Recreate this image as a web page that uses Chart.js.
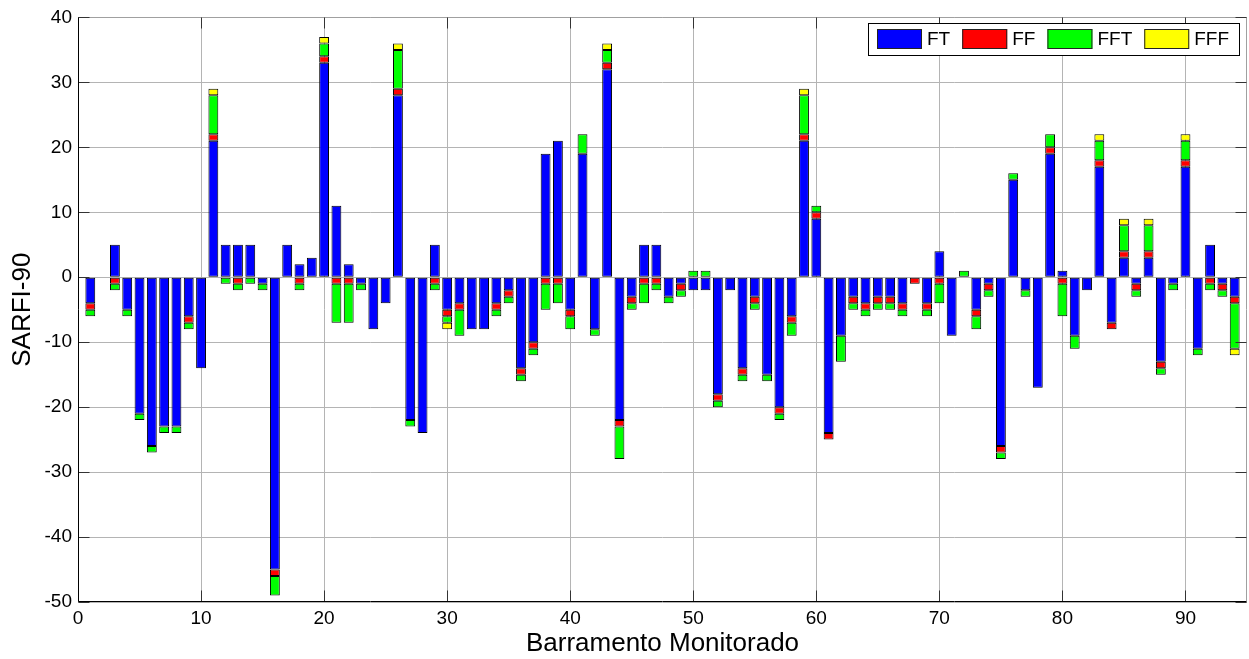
<!DOCTYPE html>
<html><head><meta charset="utf-8">
<script src="https://cdn.jsdelivr.net/npm/chart.js@4.4.0/dist/chart.umd.min.js"></script>
<style>html,body{margin:0;padding:0;background:#fff;overflow:hidden}canvas{display:block}</style>
</head><body>
<canvas id="c" width="1249" height="659"></canvas>
<script>
const buses = [1,2,3,4,5,6,7,8,9,10,11,12,13,14,15,16,17,18,19,20,21,22,23,24,25,26,27,28,29,30,31,32,33,34,35,36,37,38,39,40,41,42,43,44,45,46,47,48,49,50,51,52,53,54,55,56,57,58,59,60,61,62,63,64,65,66,67,68,69,70,71,72,73,74,75,76,77,78,79,80,81,82,83,84,85,86,87,88,89,90,91,92,93,94];
const FT  = [-4,0,5,-5,-21,-26,-23,-23,-6,-14, 21,5,5,5,-1,-45,5,2,3,33, 11,2,-1,-8,-4,28,-22,-24,5,-5, -4,-8,-8,-4,-2,-14,-10,19,21,-5, 19,-8,32,-22,-3,5,5,-3,-1,-2, -2,-18,-2,-14,-3,-15,-20,-6,21,9, -24,-9,-3,-4,-3,-3,-4,0,-4,4, -9,0,-5,-1,-26,15,-2,-17,19,1, -9,-2,17,-7,3,-1,3,-13,-1,17, -11,5,-1,-3];
const FF  = [-1,0,-1,0,0,0,0,0,-1,0, 1,0,-1,0,0,-1,0,-1,0,1, -1,-1,0,0,0,1,0,0,-1,-1, -1,0,0,-1,-1,-1,-1,-1,-1,-1, 0,0,1,-1,-1,-1,-1,0,-1,0, 0,-1,0,-1,-1,0,-1,-1,1,1, -1,0,-1,-1,-1,-1,-1,-1,-1,-1, 0,0,-1,-1,-1,0,0,0,1,-1, 0,0,1,-1,1,-1,1,-1,0,1, 0,-1,-1,-1];
const FFT = [-1,0,-1,-1,-1,-1,-1,-1,-1,0, 6,-1,-1,-1,-1,-3,0,-1,0,2, -6,-6,-1,0,0,6,-1,0,-1,-1, -4,0,0,-1,-1,-1,-1,-4,-3,-2, 3,-1,2,-5,-1,-3,-1,-1,-1,1, 1,-1,0,-1,-1,-1,-1,-2,6,1, 0,-4,-1,-1,-1,-1,-1,0,-1,-3, 0,1,-2,-1,-1,1,-1,0,2,-5, -2,0,3,0,4,-1,4,-1,-1,3, -1,-1,-1,-7];
const FFF = [0,0,0,0,0,0,0,0,0,0, 1,0,0,0,0,0,0,0,0,1, 0,0,0,0,0,1,0,0,0,-1, 0,0,0,0,0,0,0,0,0,0, 0,0,1,0,0,0,0,0,0,0, 0,0,0,0,0,0,0,0,1,0, 0,0,0,0,0,0,0,0,0,0, 0,0,0,0,0,0,0,0,0,0, 0,0,1,0,1,0,1,0,0,1, 0,0,0,-1];
const seriesNames = ['FT','FF','FFT','FFF'];
const seriesColors = ['#0000ff','#ff0000','#00ff00','#ffff00'];
const xTicks = [0,10,20,30,40,50,60,70,80,90];
const yTicks = [-50,-40,-30,-20,-10,0,10,20,30,40];

const FONT = "'Liberation Sans', Arial, Helvetica, sans-serif";
const series = [FT, FF, FFT, FFF];
const datasets = series.map((vals, k) => ({
  label: seriesNames[k],
  data: buses.map((b, i) => ({x: b, y: vals[i] === 0 ? null : vals[i]})),
  backgroundColor: seriesColors[k],
  borderColor: '#000000',
  borderWidth: 1,
  borderSkipped: false,
  barPercentage: 0.8,
  categoryPercentage: 1.0
}));

const frame = {
  id: 'frame',
  afterDraw(chart) {
    const ctx = chart.ctx, a = chart.chartArea;
    const xs = chart.scales.x, ys = chart.scales.y;
    const L = Math.round(a.left) + 0.5, R = Math.round(a.right) - 0.5;
    const T = Math.round(a.top) + 0.5, B = Math.round(a.bottom) - 0.5;
    ctx.save();
    ctx.lineWidth = 1;
    ctx.strokeStyle = '#a0a0a0';
    ctx.beginPath();
    ctx.moveTo(L, T); ctx.lineTo(R, T); ctx.lineTo(R, B);
    ctx.stroke();
    ctx.strokeStyle = '#333333';
    ctx.beginPath();
    xTicks.forEach(v => {
      const px = Math.round(xs.getPixelForValue(v)) + 0.5;
      ctx.moveTo(px, B); ctx.lineTo(px, B - 11);
      ctx.moveTo(px, T); ctx.lineTo(px, T + 11);
    });
    yTicks.forEach(v => {
      const py = Math.round(ys.getPixelForValue(v)) + 0.5;
      ctx.moveTo(L, py); ctx.lineTo(L + 11, py);
      ctx.moveTo(R, py); ctx.lineTo(R - 11, py);
    });
    ctx.stroke();
    ctx.strokeStyle = '#000000';
    ctx.beginPath();
    ctx.moveTo(L, T); ctx.lineTo(L, B); ctx.lineTo(R, B);
    ctx.stroke();

    // legend box
    const bx = 868, by = 23, bw = 372, bh = 33;
    ctx.fillStyle = '#ffffff';
    ctx.fillRect(bx, by, bw, bh);
    ctx.strokeStyle = '#000000';
    ctx.strokeRect(bx + 0.5, by + 0.5, bw - 1, bh - 1);
    ctx.font = '19px ' + FONT;
    ctx.textBaseline = 'middle';
    ctx.textAlign = 'left';
    let x = 877;
    chart.data.datasets.forEach(ds => {
      ctx.fillStyle = ds.backgroundColor;
      ctx.fillRect(x, 29, 45, 20);
      ctx.strokeStyle = '#222';
      ctx.strokeRect(x + 0.5, 29.5, 44, 19);
      ctx.fillStyle = '#000';
      ctx.fillText(ds.label, x + 50, 40);
      x += 50 + ctx.measureText(ds.label).width + 12;
    });
    ctx.restore();
  }
};

new Chart(document.getElementById('c'), {
  type: 'bar',
  data: { datasets },
  options: {
    responsive: false,
    animation: false,
    devicePixelRatio: 1,
    layout: { padding: { top: 16, right: 2, left: 0, bottom: 0 } },
    plugins: { legend: { display: false }, tooltip: { enabled: false } },
    scales: {
      x: {
        type: 'linear',
        stacked: true,
        offset: false,
        min: 0, max: 95,
        afterBuildTicks: s => { s.ticks = xTicks.map(v => ({ value: v })); },
        afterFit: s => { s.height = 57; },
        grid: { color: '#b4b4b4', drawTicks: false, lineWidth: 1, offset: false },
        border: { display: false },
        ticks: { font: { family: FONT, size: 19 }, color: '#000', padding: 5, maxRotation: 0, autoSkip: false },
        title: { display: true, text: 'Barramento Monitorado', font: { family: FONT, size: 26 }, color: '#000', padding: 0 }
      },
      y: {
        stacked: true,
        min: -50, max: 40,
        afterBuildTicks: s => { s.ticks = yTicks.map(v => ({ value: v })); },
        afterFit: s => { s.width = 78; },
        grid: { color: '#b4b4b4', drawTicks: false, lineWidth: 1 },
        border: { display: false },
        ticks: { font: { family: FONT, size: 19 }, color: '#000', padding: 6, autoSkip: false },
        title: { display: true, text: 'SARFI-90', font: { family: FONT, size: 26 }, color: '#000', padding: { top: 7, bottom: 0 } }
      }
    }
  },
  plugins: [frame]
});
</script>
</body></html>
